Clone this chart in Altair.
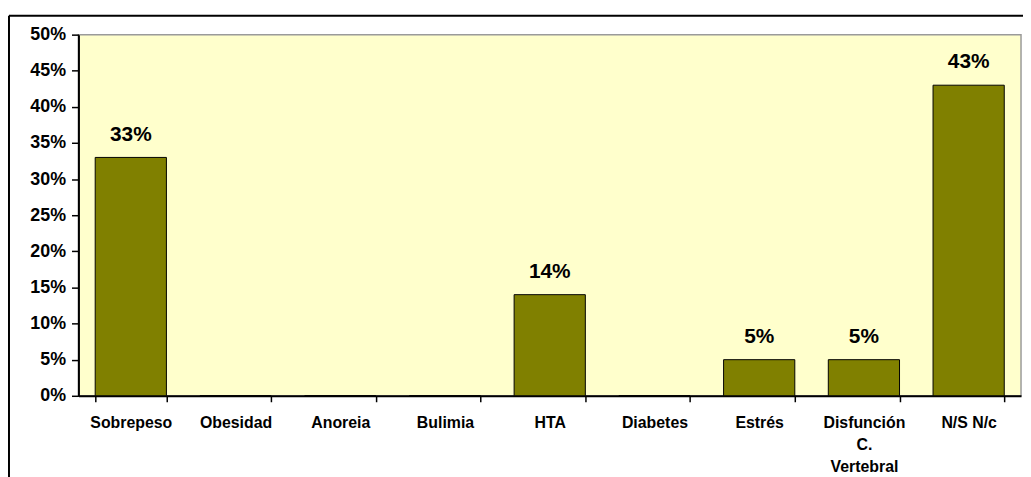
import altair as alt
import pandas as pd

categories = ["Sobrepeso", "Obesidad", "Anoreia", "Bulimia", "HTA", "Diabetes",
              "Estrés", "Disfunción C. Vertebral", "N/S N/c"]
values = [0.33, 0.0, 0.0, 0.0, 0.14, 0.0, 0.05, 0.05, 0.43]
label_texts = ["33%", "", "", "", "14%", "", "5%", "5%", "43%"]
y_ticks = [0, 0.05, 0.1, 0.15, 0.2, 0.25, 0.3, 0.35, 0.4, 0.45, 0.5]

df = pd.DataFrame({"cat": categories, "val": values, "lbl": label_texts})

W, H = 950, 364
FONT = "Liberation Sans"

x_axis = alt.Axis(labelAngle=0, labelFont=FONT, labelFontSize=16,
                  labelFontWeight="bold", labelColor="black",
                  labelPadding=13, labelLineHeight=22, labelOverlap=False,
                  labelExpr="datum.label == 'Disfunción C. Vertebral' ? ['Disfunción', 'C.', 'Vertebral'] : datum.label",
                  tickBand="extent", tickSize=6, tickColor="black", tickWidth=1.5,
                  domainColor="black", domainWidth=2)
y_axis = alt.Axis(values=y_ticks, tickCount=11, labelOverlap=False,
                  format=".0%", grid=False, labelFont=FONT, labelFontSize=18,
                  labelFontWeight="bold", labelColor="black", labelPadding=6,
                  tickSize=7, tickColor="black", tickWidth=1.5,
                  domainColor="black", domainWidth=2)
x_scale = alt.Scale(paddingInner=0.32, paddingOuter=0.16)
y_scale = alt.Scale(domain=[0, 0.5])

bars = alt.Chart(df).mark_bar(color="#808000", stroke="black", strokeWidth=1).encode(
    x=alt.X("cat:N", sort=categories, title=None, scale=x_scale, axis=x_axis),
    y=alt.Y("val:Q", title=None, scale=y_scale, axis=y_axis),
)

texts = alt.Chart(df).mark_text(font=FONT, fontSize=21, fontWeight="bold",
                                 color="black", baseline="alphabetic", dy=-17).encode(
    x=alt.X("cat:N", sort=categories, title=None, scale=x_scale, axis=x_axis),
    y=alt.Y("val:Q", title=None, scale=y_scale, axis=y_axis),
    text="lbl:N",
)

one = alt.Data(values=[{"a": 1}])
frame_v = alt.Chart(one).mark_rule(color="black", strokeWidth=2).encode(
    x=alt.value(-70), y=alt.value(-19), y2=alt.value(500))
frame_h = alt.Chart(one).mark_rule(color="black", strokeWidth=2).encode(
    x=alt.value(-70), x2=alt.value(960), y=alt.value(-19))

chart = alt.layer(bars, texts, frame_v, frame_h).properties(
    width=W, height=H,
    autosize=alt.AutoSizeParams(type="none"),
    padding={"left": 71, "top": 25, "right": 2, "bottom": 80},
    background="white",
).configure_view(fill="#FFFFCC", stroke="#9a9a9a", strokeWidth=1.5)

chart.save("out.html", embed_options={"renderer": "svg", "actions": False})
